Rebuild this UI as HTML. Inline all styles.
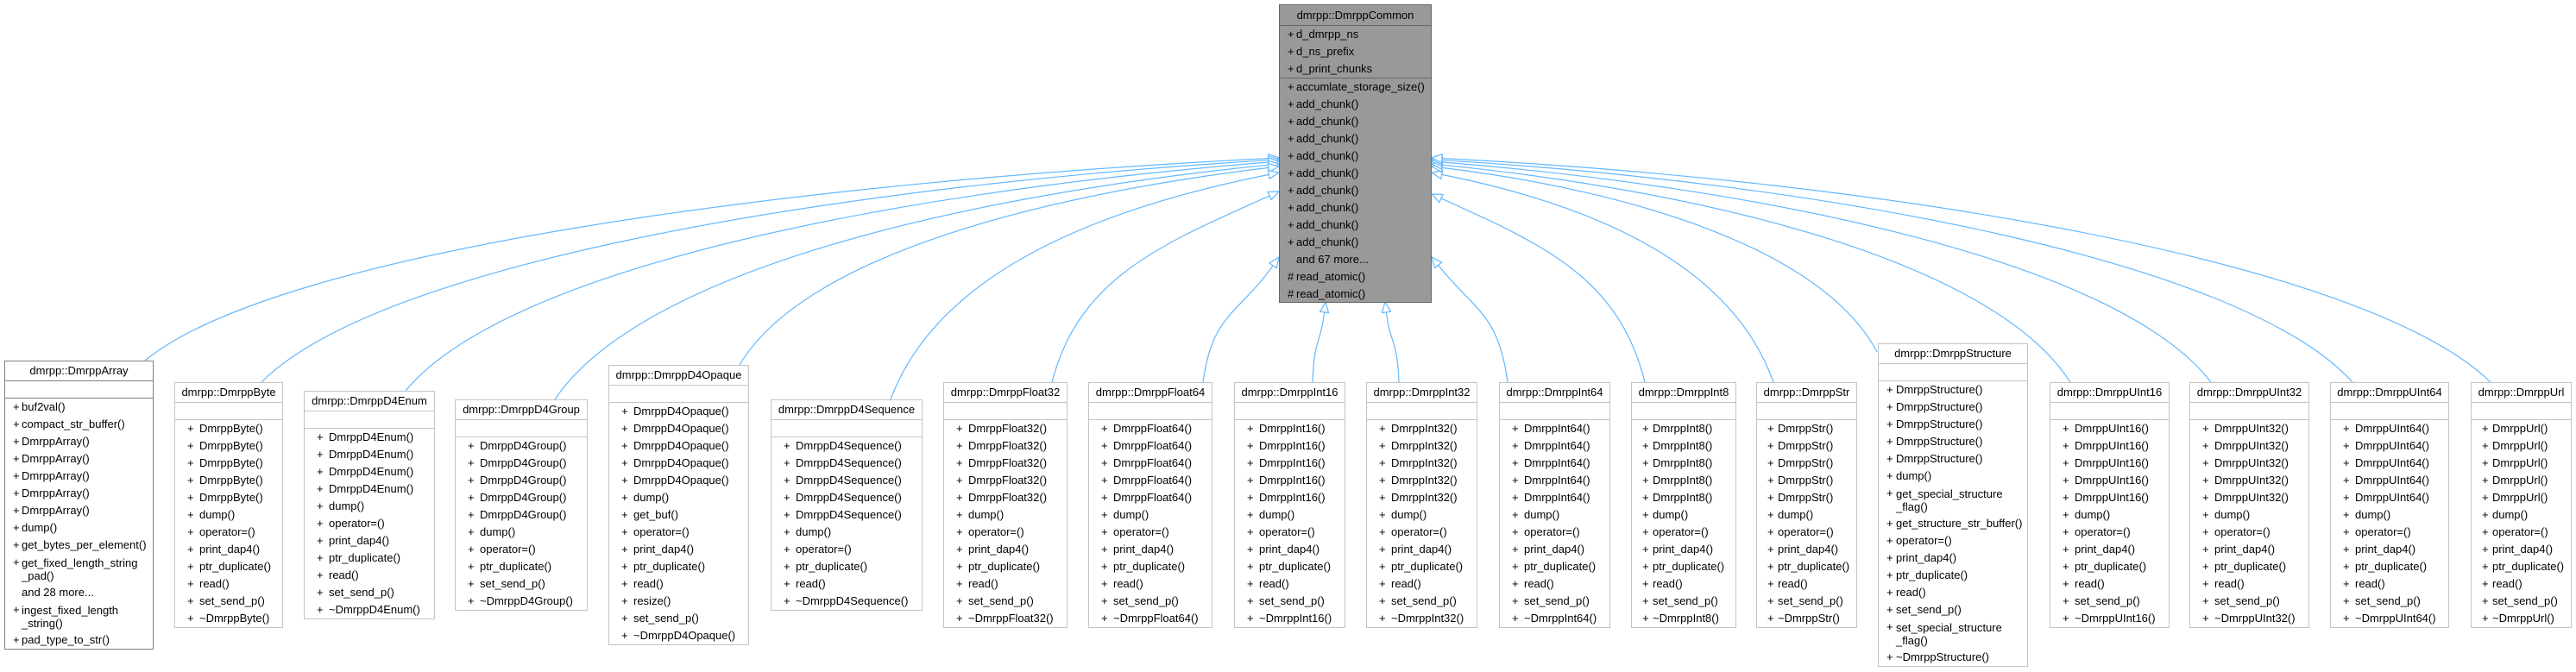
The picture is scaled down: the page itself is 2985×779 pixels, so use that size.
<!DOCTYPE html>
<html><head><meta charset="utf-8"><style>
html,body{margin:0;padding:0;background:#fff;}
body{width:2985px;height:779px;position:relative;overflow:hidden;font:13px "Liberation Sans",Arial,sans-serif;color:#000;}
svg{position:absolute;left:0;top:0;}
.b{position:absolute;background:#fff;border:1px solid #c4c4c4;box-sizing:border-box;--p:14px;--n:28px;}
.t{height:22px;line-height:22px;text-align:center;border-bottom:1px solid #c4c4c4;white-space:nowrap;}
.e{height:19px;border-bottom:1px solid #c4c4c4;}
.r{height:20px;line-height:20px;position:relative;white-space:nowrap;}
.r .p{position:absolute;left:var(--p);top:0;}
.r .n{position:absolute;left:var(--n);top:0;}
.w{height:35px;}
.w .n{line-height:15px;top:3px;}
.nar{--p:9px;--n:19px;}
.med{--p:12px;--n:24px;}
.arr{border-color:#808080;}
.arr .t,.arr .e{border-color:#808080;}
.base{background:#999;border-color:#666;}
.base .t{height:23px;line-height:23px;border-color:#666;}
.base .a{border-bottom:1px solid #666;}
</style></head><body>
<svg id="g" width="2985" height="779"></svg>

<div class="b base nar" style="left:1482px;top:5px;width:177px;height:346px;">
<div class="t">dmrpp::DmrppCommon</div>
<div class="a">
<div class="r"><span class="p">+</span><span class="n">d_dmrpp_ns</span></div>
<div class="r"><span class="p">+</span><span class="n">d_ns_prefix</span></div>
<div class="r"><span class="p">+</span><span class="n">d_print_chunks</span></div>
</div>
<div class="r"><span class="p">+</span><span class="n">accumlate_storage_size()</span></div>
<div class="r"><span class="p">+</span><span class="n">add_chunk()</span></div>
<div class="r"><span class="p">+</span><span class="n">add_chunk()</span></div>
<div class="r"><span class="p">+</span><span class="n">add_chunk()</span></div>
<div class="r"><span class="p">+</span><span class="n">add_chunk()</span></div>
<div class="r"><span class="p">+</span><span class="n">add_chunk()</span></div>
<div class="r"><span class="p">+</span><span class="n">add_chunk()</span></div>
<div class="r"><span class="p">+</span><span class="n">add_chunk()</span></div>
<div class="r"><span class="p">+</span><span class="n">add_chunk()</span></div>
<div class="r"><span class="p">+</span><span class="n">add_chunk()</span></div>
<div class="r"><span class="n">and 67 more...</span></div>
<div class="r"><span class="p">#</span><span class="n">read_atomic()</span></div>
<div class="r"><span class="p">#</span><span class="n">read_atomic()</span></div>
</div>

<div class="b arr nar" style="left:5px;top:418px;width:173px;height:335px;">
<div class="t">dmrpp::DmrppArray</div><div class="e"></div>
<div class="r"><span class="p">+</span><span class="n">buf2val()</span></div>
<div class="r"><span class="p">+</span><span class="n">compact_str_buffer()</span></div>
<div class="r"><span class="p">+</span><span class="n">DmrppArray()</span></div>
<div class="r"><span class="p">+</span><span class="n">DmrppArray()</span></div>
<div class="r"><span class="p">+</span><span class="n">DmrppArray()</span></div>
<div class="r"><span class="p">+</span><span class="n">DmrppArray()</span></div>
<div class="r"><span class="p">+</span><span class="n">DmrppArray()</span></div>
<div class="r"><span class="p">+</span><span class="n">dump()</span></div>
<div class="r"><span class="p">+</span><span class="n">get_bytes_per_element()</span></div>
<div class="r w"><span class="p">+</span><span class="n">get_fixed_length_string<br>_pad()</span></div>
<div class="r"><span class="n">and 28 more...</span></div>
<div class="r w"><span class="p">+</span><span class="n">ingest_fixed_length<br>_string()</span></div>
<div class="r"><span class="p">+</span><span class="n">pad_type_to_str()</span></div>
</div>

<div class="b" style="left:202px;top:443px;width:126px;height:285px;">
<div class="t">dmrpp::DmrppByte</div><div class="e"></div>
<div class="r"><span class="p">+</span><span class="n">DmrppByte()</span></div>
<div class="r"><span class="p">+</span><span class="n">DmrppByte()</span></div>
<div class="r"><span class="p">+</span><span class="n">DmrppByte()</span></div>
<div class="r"><span class="p">+</span><span class="n">DmrppByte()</span></div>
<div class="r"><span class="p">+</span><span class="n">DmrppByte()</span></div>
<div class="r"><span class="p">+</span><span class="n">dump()</span></div>
<div class="r"><span class="p">+</span><span class="n">operator=()</span></div>
<div class="r"><span class="p">+</span><span class="n">print_dap4()</span></div>
<div class="r"><span class="p">+</span><span class="n">ptr_duplicate()</span></div>
<div class="r"><span class="p">+</span><span class="n">read()</span></div>
<div class="r"><span class="p">+</span><span class="n">set_send_p()</span></div>
<div class="r"><span class="p">+</span><span class="n">~DmrppByte()</span></div>
</div>

<div class="b" style="left:352px;top:453px;width:152px;height:265px;">
<div class="t">dmrpp::DmrppD4Enum</div><div class="e"></div>
<div class="r"><span class="p">+</span><span class="n">DmrppD4Enum()</span></div>
<div class="r"><span class="p">+</span><span class="n">DmrppD4Enum()</span></div>
<div class="r"><span class="p">+</span><span class="n">DmrppD4Enum()</span></div>
<div class="r"><span class="p">+</span><span class="n">DmrppD4Enum()</span></div>
<div class="r"><span class="p">+</span><span class="n">dump()</span></div>
<div class="r"><span class="p">+</span><span class="n">operator=()</span></div>
<div class="r"><span class="p">+</span><span class="n">print_dap4()</span></div>
<div class="r"><span class="p">+</span><span class="n">ptr_duplicate()</span></div>
<div class="r"><span class="p">+</span><span class="n">read()</span></div>
<div class="r"><span class="p">+</span><span class="n">set_send_p()</span></div>
<div class="r"><span class="p">+</span><span class="n">~DmrppD4Enum()</span></div>
</div>

<div class="b" style="left:527px;top:463px;width:154px;height:245px;">
<div class="t">dmrpp::DmrppD4Group</div><div class="e"></div>
<div class="r"><span class="p">+</span><span class="n">DmrppD4Group()</span></div>
<div class="r"><span class="p">+</span><span class="n">DmrppD4Group()</span></div>
<div class="r"><span class="p">+</span><span class="n">DmrppD4Group()</span></div>
<div class="r"><span class="p">+</span><span class="n">DmrppD4Group()</span></div>
<div class="r"><span class="p">+</span><span class="n">DmrppD4Group()</span></div>
<div class="r"><span class="p">+</span><span class="n">dump()</span></div>
<div class="r"><span class="p">+</span><span class="n">operator=()</span></div>
<div class="r"><span class="p">+</span><span class="n">ptr_duplicate()</span></div>
<div class="r"><span class="p">+</span><span class="n">set_send_p()</span></div>
<div class="r"><span class="p">+</span><span class="n">~DmrppD4Group()</span></div>
</div>

<div class="b" style="left:705px;top:423px;width:163px;height:325px;">
<div class="t">dmrpp::DmrppD4Opaque</div><div class="e"></div>
<div class="r"><span class="p">+</span><span class="n">DmrppD4Opaque()</span></div>
<div class="r"><span class="p">+</span><span class="n">DmrppD4Opaque()</span></div>
<div class="r"><span class="p">+</span><span class="n">DmrppD4Opaque()</span></div>
<div class="r"><span class="p">+</span><span class="n">DmrppD4Opaque()</span></div>
<div class="r"><span class="p">+</span><span class="n">DmrppD4Opaque()</span></div>
<div class="r"><span class="p">+</span><span class="n">dump()</span></div>
<div class="r"><span class="p">+</span><span class="n">get_buf()</span></div>
<div class="r"><span class="p">+</span><span class="n">operator=()</span></div>
<div class="r"><span class="p">+</span><span class="n">print_dap4()</span></div>
<div class="r"><span class="p">+</span><span class="n">ptr_duplicate()</span></div>
<div class="r"><span class="p">+</span><span class="n">read()</span></div>
<div class="r"><span class="p">+</span><span class="n">resize()</span></div>
<div class="r"><span class="p">+</span><span class="n">set_send_p()</span></div>
<div class="r"><span class="p">+</span><span class="n">~DmrppD4Opaque()</span></div>
</div>

<div class="b" style="left:893px;top:463px;width:176px;height:245px;">
<div class="t">dmrpp::DmrppD4Sequence</div><div class="e"></div>
<div class="r"><span class="p">+</span><span class="n">DmrppD4Sequence()</span></div>
<div class="r"><span class="p">+</span><span class="n">DmrppD4Sequence()</span></div>
<div class="r"><span class="p">+</span><span class="n">DmrppD4Sequence()</span></div>
<div class="r"><span class="p">+</span><span class="n">DmrppD4Sequence()</span></div>
<div class="r"><span class="p">+</span><span class="n">DmrppD4Sequence()</span></div>
<div class="r"><span class="p">+</span><span class="n">dump()</span></div>
<div class="r"><span class="p">+</span><span class="n">operator=()</span></div>
<div class="r"><span class="p">+</span><span class="n">ptr_duplicate()</span></div>
<div class="r"><span class="p">+</span><span class="n">read()</span></div>
<div class="r"><span class="p">+</span><span class="n">~DmrppD4Sequence()</span></div>
</div>

<div class="b" style="left:1093px;top:443px;width:144px;height:285px;">
<div class="t">dmrpp::DmrppFloat32</div><div class="e"></div>
<div class="r"><span class="p">+</span><span class="n">DmrppFloat32()</span></div>
<div class="r"><span class="p">+</span><span class="n">DmrppFloat32()</span></div>
<div class="r"><span class="p">+</span><span class="n">DmrppFloat32()</span></div>
<div class="r"><span class="p">+</span><span class="n">DmrppFloat32()</span></div>
<div class="r"><span class="p">+</span><span class="n">DmrppFloat32()</span></div>
<div class="r"><span class="p">+</span><span class="n">dump()</span></div>
<div class="r"><span class="p">+</span><span class="n">operator=()</span></div>
<div class="r"><span class="p">+</span><span class="n">print_dap4()</span></div>
<div class="r"><span class="p">+</span><span class="n">ptr_duplicate()</span></div>
<div class="r"><span class="p">+</span><span class="n">read()</span></div>
<div class="r"><span class="p">+</span><span class="n">set_send_p()</span></div>
<div class="r"><span class="p">+</span><span class="n">~DmrppFloat32()</span></div>
</div>

<div class="b" style="left:1261px;top:443px;width:144px;height:285px;">
<div class="t">dmrpp::DmrppFloat64</div><div class="e"></div>
<div class="r"><span class="p">+</span><span class="n">DmrppFloat64()</span></div>
<div class="r"><span class="p">+</span><span class="n">DmrppFloat64()</span></div>
<div class="r"><span class="p">+</span><span class="n">DmrppFloat64()</span></div>
<div class="r"><span class="p">+</span><span class="n">DmrppFloat64()</span></div>
<div class="r"><span class="p">+</span><span class="n">DmrppFloat64()</span></div>
<div class="r"><span class="p">+</span><span class="n">dump()</span></div>
<div class="r"><span class="p">+</span><span class="n">operator=()</span></div>
<div class="r"><span class="p">+</span><span class="n">print_dap4()</span></div>
<div class="r"><span class="p">+</span><span class="n">ptr_duplicate()</span></div>
<div class="r"><span class="p">+</span><span class="n">read()</span></div>
<div class="r"><span class="p">+</span><span class="n">set_send_p()</span></div>
<div class="r"><span class="p">+</span><span class="n">~DmrppFloat64()</span></div>
</div>

<div class="b" style="left:1430px;top:443px;width:129px;height:285px;">
<div class="t">dmrpp::DmrppInt16</div><div class="e"></div>
<div class="r"><span class="p">+</span><span class="n">DmrppInt16()</span></div>
<div class="r"><span class="p">+</span><span class="n">DmrppInt16()</span></div>
<div class="r"><span class="p">+</span><span class="n">DmrppInt16()</span></div>
<div class="r"><span class="p">+</span><span class="n">DmrppInt16()</span></div>
<div class="r"><span class="p">+</span><span class="n">DmrppInt16()</span></div>
<div class="r"><span class="p">+</span><span class="n">dump()</span></div>
<div class="r"><span class="p">+</span><span class="n">operator=()</span></div>
<div class="r"><span class="p">+</span><span class="n">print_dap4()</span></div>
<div class="r"><span class="p">+</span><span class="n">ptr_duplicate()</span></div>
<div class="r"><span class="p">+</span><span class="n">read()</span></div>
<div class="r"><span class="p">+</span><span class="n">set_send_p()</span></div>
<div class="r"><span class="p">+</span><span class="n">~DmrppInt16()</span></div>
</div>

<div class="b" style="left:1583px;top:443px;width:129px;height:285px;">
<div class="t">dmrpp::DmrppInt32</div><div class="e"></div>
<div class="r"><span class="p">+</span><span class="n">DmrppInt32()</span></div>
<div class="r"><span class="p">+</span><span class="n">DmrppInt32()</span></div>
<div class="r"><span class="p">+</span><span class="n">DmrppInt32()</span></div>
<div class="r"><span class="p">+</span><span class="n">DmrppInt32()</span></div>
<div class="r"><span class="p">+</span><span class="n">DmrppInt32()</span></div>
<div class="r"><span class="p">+</span><span class="n">dump()</span></div>
<div class="r"><span class="p">+</span><span class="n">operator=()</span></div>
<div class="r"><span class="p">+</span><span class="n">print_dap4()</span></div>
<div class="r"><span class="p">+</span><span class="n">ptr_duplicate()</span></div>
<div class="r"><span class="p">+</span><span class="n">read()</span></div>
<div class="r"><span class="p">+</span><span class="n">set_send_p()</span></div>
<div class="r"><span class="p">+</span><span class="n">~DmrppInt32()</span></div>
</div>

<div class="b" style="left:1737px;top:443px;width:129px;height:285px;">
<div class="t">dmrpp::DmrppInt64</div><div class="e"></div>
<div class="r"><span class="p">+</span><span class="n">DmrppInt64()</span></div>
<div class="r"><span class="p">+</span><span class="n">DmrppInt64()</span></div>
<div class="r"><span class="p">+</span><span class="n">DmrppInt64()</span></div>
<div class="r"><span class="p">+</span><span class="n">DmrppInt64()</span></div>
<div class="r"><span class="p">+</span><span class="n">DmrppInt64()</span></div>
<div class="r"><span class="p">+</span><span class="n">dump()</span></div>
<div class="r"><span class="p">+</span><span class="n">operator=()</span></div>
<div class="r"><span class="p">+</span><span class="n">print_dap4()</span></div>
<div class="r"><span class="p">+</span><span class="n">ptr_duplicate()</span></div>
<div class="r"><span class="p">+</span><span class="n">read()</span></div>
<div class="r"><span class="p">+</span><span class="n">set_send_p()</span></div>
<div class="r"><span class="p">+</span><span class="n">~DmrppInt64()</span></div>
</div>

<div class="b med" style="left:1890px;top:443px;width:122px;height:285px;">
<div class="t">dmrpp::DmrppInt8</div><div class="e"></div>
<div class="r"><span class="p">+</span><span class="n">DmrppInt8()</span></div>
<div class="r"><span class="p">+</span><span class="n">DmrppInt8()</span></div>
<div class="r"><span class="p">+</span><span class="n">DmrppInt8()</span></div>
<div class="r"><span class="p">+</span><span class="n">DmrppInt8()</span></div>
<div class="r"><span class="p">+</span><span class="n">DmrppInt8()</span></div>
<div class="r"><span class="p">+</span><span class="n">dump()</span></div>
<div class="r"><span class="p">+</span><span class="n">operator=()</span></div>
<div class="r"><span class="p">+</span><span class="n">print_dap4()</span></div>
<div class="r"><span class="p">+</span><span class="n">ptr_duplicate()</span></div>
<div class="r"><span class="p">+</span><span class="n">read()</span></div>
<div class="r"><span class="p">+</span><span class="n">set_send_p()</span></div>
<div class="r"><span class="p">+</span><span class="n">~DmrppInt8()</span></div>
</div>

<div class="b med" style="left:2035px;top:443px;width:117px;height:285px;">
<div class="t">dmrpp::DmrppStr</div><div class="e"></div>
<div class="r"><span class="p">+</span><span class="n">DmrppStr()</span></div>
<div class="r"><span class="p">+</span><span class="n">DmrppStr()</span></div>
<div class="r"><span class="p">+</span><span class="n">DmrppStr()</span></div>
<div class="r"><span class="p">+</span><span class="n">DmrppStr()</span></div>
<div class="r"><span class="p">+</span><span class="n">DmrppStr()</span></div>
<div class="r"><span class="p">+</span><span class="n">dump()</span></div>
<div class="r"><span class="p">+</span><span class="n">operator=()</span></div>
<div class="r"><span class="p">+</span><span class="n">print_dap4()</span></div>
<div class="r"><span class="p">+</span><span class="n">ptr_duplicate()</span></div>
<div class="r"><span class="p">+</span><span class="n">read()</span></div>
<div class="r"><span class="p">+</span><span class="n">set_send_p()</span></div>
<div class="r"><span class="p">+</span><span class="n">~DmrppStr()</span></div>
</div>

<div class="b" style="left:2176px;top:398px;width:174px;height:375px;--p:9px;--n:20px;">
<div class="t">dmrpp::DmrppStructure</div><div class="e"></div>
<div class="r"><span class="p">+</span><span class="n">DmrppStructure()</span></div>
<div class="r"><span class="p">+</span><span class="n">DmrppStructure()</span></div>
<div class="r"><span class="p">+</span><span class="n">DmrppStructure()</span></div>
<div class="r"><span class="p">+</span><span class="n">DmrppStructure()</span></div>
<div class="r"><span class="p">+</span><span class="n">DmrppStructure()</span></div>
<div class="r"><span class="p">+</span><span class="n">dump()</span></div>
<div class="r w"><span class="p">+</span><span class="n">get_special_structure<br>_flag()</span></div>
<div class="r"><span class="p">+</span><span class="n">get_structure_str_buffer()</span></div>
<div class="r"><span class="p">+</span><span class="n">operator=()</span></div>
<div class="r"><span class="p">+</span><span class="n">print_dap4()</span></div>
<div class="r"><span class="p">+</span><span class="n">ptr_duplicate()</span></div>
<div class="r"><span class="p">+</span><span class="n">read()</span></div>
<div class="r"><span class="p">+</span><span class="n">set_send_p()</span></div>
<div class="r w"><span class="p">+</span><span class="n">set_special_structure<br>_flag()</span></div>
<div class="r"><span class="p">+</span><span class="n">~DmrppStructure()</span></div>
</div>

<div class="b" style="left:2375px;top:443px;width:139px;height:285px;">
<div class="t">dmrpp::DmrppUInt16</div><div class="e"></div>
<div class="r"><span class="p">+</span><span class="n">DmrppUInt16()</span></div>
<div class="r"><span class="p">+</span><span class="n">DmrppUInt16()</span></div>
<div class="r"><span class="p">+</span><span class="n">DmrppUInt16()</span></div>
<div class="r"><span class="p">+</span><span class="n">DmrppUInt16()</span></div>
<div class="r"><span class="p">+</span><span class="n">DmrppUInt16()</span></div>
<div class="r"><span class="p">+</span><span class="n">dump()</span></div>
<div class="r"><span class="p">+</span><span class="n">operator=()</span></div>
<div class="r"><span class="p">+</span><span class="n">print_dap4()</span></div>
<div class="r"><span class="p">+</span><span class="n">ptr_duplicate()</span></div>
<div class="r"><span class="p">+</span><span class="n">read()</span></div>
<div class="r"><span class="p">+</span><span class="n">set_send_p()</span></div>
<div class="r"><span class="p">+</span><span class="n">~DmrppUInt16()</span></div>
</div>

<div class="b" style="left:2537px;top:443px;width:139px;height:285px;">
<div class="t">dmrpp::DmrppUInt32</div><div class="e"></div>
<div class="r"><span class="p">+</span><span class="n">DmrppUInt32()</span></div>
<div class="r"><span class="p">+</span><span class="n">DmrppUInt32()</span></div>
<div class="r"><span class="p">+</span><span class="n">DmrppUInt32()</span></div>
<div class="r"><span class="p">+</span><span class="n">DmrppUInt32()</span></div>
<div class="r"><span class="p">+</span><span class="n">DmrppUInt32()</span></div>
<div class="r"><span class="p">+</span><span class="n">dump()</span></div>
<div class="r"><span class="p">+</span><span class="n">operator=()</span></div>
<div class="r"><span class="p">+</span><span class="n">print_dap4()</span></div>
<div class="r"><span class="p">+</span><span class="n">ptr_duplicate()</span></div>
<div class="r"><span class="p">+</span><span class="n">read()</span></div>
<div class="r"><span class="p">+</span><span class="n">set_send_p()</span></div>
<div class="r"><span class="p">+</span><span class="n">~DmrppUInt32()</span></div>
</div>

<div class="b" style="left:2700px;top:443px;width:138px;height:285px;">
<div class="t">dmrpp::DmrppUInt64</div><div class="e"></div>
<div class="r"><span class="p">+</span><span class="n">DmrppUInt64()</span></div>
<div class="r"><span class="p">+</span><span class="n">DmrppUInt64()</span></div>
<div class="r"><span class="p">+</span><span class="n">DmrppUInt64()</span></div>
<div class="r"><span class="p">+</span><span class="n">DmrppUInt64()</span></div>
<div class="r"><span class="p">+</span><span class="n">DmrppUInt64()</span></div>
<div class="r"><span class="p">+</span><span class="n">dump()</span></div>
<div class="r"><span class="p">+</span><span class="n">operator=()</span></div>
<div class="r"><span class="p">+</span><span class="n">print_dap4()</span></div>
<div class="r"><span class="p">+</span><span class="n">ptr_duplicate()</span></div>
<div class="r"><span class="p">+</span><span class="n">read()</span></div>
<div class="r"><span class="p">+</span><span class="n">set_send_p()</span></div>
<div class="r"><span class="p">+</span><span class="n">~DmrppUInt64()</span></div>
</div>

<div class="b med" style="left:2863px;top:443px;width:117px;height:285px;">
<div class="t">dmrpp::DmrppUrl</div><div class="e"></div>
<div class="r"><span class="p">+</span><span class="n">DmrppUrl()</span></div>
<div class="r"><span class="p">+</span><span class="n">DmrppUrl()</span></div>
<div class="r"><span class="p">+</span><span class="n">DmrppUrl()</span></div>
<div class="r"><span class="p">+</span><span class="n">DmrppUrl()</span></div>
<div class="r"><span class="p">+</span><span class="n">DmrppUrl()</span></div>
<div class="r"><span class="p">+</span><span class="n">dump()</span></div>
<div class="r"><span class="p">+</span><span class="n">operator=()</span></div>
<div class="r"><span class="p">+</span><span class="n">print_dap4()</span></div>
<div class="r"><span class="p">+</span><span class="n">ptr_duplicate()</span></div>
<div class="r"><span class="p">+</span><span class="n">read()</span></div>
<div class="r"><span class="p">+</span><span class="n">set_send_p()</span></div>
<div class="r"><span class="p">+</span><span class="n">~DmrppUrl()</span></div>
</div>

<script>
(function(){
var L=1482,R=1659,B=350;
// [cx,cy,tx,ty,dx,dy]
var E=[
[168,418,L,183,1,-0.05],[303,443,L,185,1,-0.06],[470,453,L,187,1,-0.08],[643,463,L,190,1,-0.1],
[857,423,L,193,1,-0.12],[1032,463,L,200,1,-0.2],[1219,443,L,222,1,-0.45],[1394,443,L,298,0.7,-1],
[1521,443,1536,350,0.12,-1],[1621,443,1605,350,-0.12,-1],
[1747,443,R,298,-0.8,-1],[1906,443,R,225,-1,-0.45],[2055,443,R,200,-1,-0.2],[2175,408,R,193,-1,-0.12],
[2399,443,R,190,-1,-0.1],[2562,443,R,187,-1,-0.08],[2726,443,R,185,-1,-0.06],[2886,443,R,183,-1,-0.05]
];
var s='';
E.forEach(function(e){
 var cx=e[0],cy=e[1],tx=e[2],ty=e[3],dx=e[4],dy=e[5];
 var m=Math.sqrt(dx*dx+dy*dy);dx/=m;dy/=m;
 var bx=tx-dx*12,by=ty-dy*12;
 var dist=Math.sqrt((tx-cx)*(tx-cx)+(ty-cy)*(ty-cy));
 var k=0.4*dist;
 var p1x=cx+(tx-cx)*0.12,p1y=cy-(cy-ty)*0.55;
 var p2x=bx-dx*k,p2y=by-dy*k;
 s+='<path d="M'+cx+','+cy+' C'+p1x.toFixed(1)+','+p1y.toFixed(1)+' '+p2x.toFixed(1)+','+p2y.toFixed(1)+' '+bx.toFixed(1)+','+by.toFixed(1)+'" fill="none" stroke="#63b8ff" stroke-width="1.2"/>';
 var px=-dy,py=dx;
 s+='<polygon points="'+tx+','+ty+' '+(bx+px*5).toFixed(1)+','+(by+py*5).toFixed(1)+' '+(bx-px*5).toFixed(1)+','+(by-py*5).toFixed(1)+'" fill="#fff" stroke="#63b8ff" stroke-width="1.2"/>';
});
document.getElementById('g').innerHTML=s;
})();
</script>
</body></html>
